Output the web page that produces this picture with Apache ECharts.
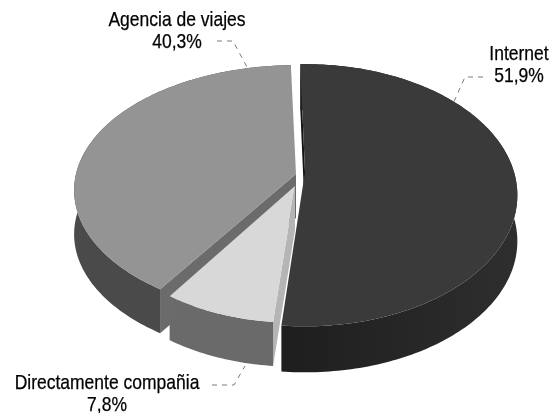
<!DOCTYPE html>
<html style="height: 100%">
  <head>
    <meta charset="UTF-8" />
    <title>ECharts</title>
    <script src="https://cdn.jsdelivr.net/npm/echarts/dist/echarts.min.js"></script>
  </head>
  <body style="height: 100%; margin: 0; background: #fff">
    <div id="main" style="height: 100%"></div>
    <script>
      // clockwise from the top
      var names = ['Internet', 'Directamente compañia', 'Agencia de viajes'];
      var values = [51.9, 7.8, 40.3];

      // where each wedge sits on the page: apex, radii, perspective, wall height
      var wedges = [
        { ax: 305, ay: 172, sx: 209, sy: 127, k: 0.177, h: 46 },
        { ax: 295, ay: 186, sx: 194, sy: 112.5, k: 0.177, h: 44 },
        { ax: 296, ay: 174, sx: 220, sy: 123, k: 0.13, h: 44 }
      ];
      var faceColors = ['#3a3a3a', '#d8d8d8', '#949494'];
      var rimColors = [
        {
          type: 'linear', x: 0, y: 0, x2: 1, y2: 0,
          colorStops: [
            { offset: 0, color: '#1e1e1e' },
            { offset: 1, color: '#2e2e2e' }
          ]
        },
        '#6a6a6a',
        '#4a4a4a'
      ];
      var cutColors = ['#141414', '#b5b5b5', '#6b6b6b'];
      // the exploded small wedge has to sit over the grey one
      var layers = [1, 2, 1];

      // top of the label text, and the dashed leader: start, elbow, end on the pie
      var labels = [
        { x: 519, y: 43, leader: [[483, 77], [465, 77], [452, 106]] },
        { x: 107, y: 372, leader: [[212, 385], [234, 385], [245, 366]] },
        { x: 177, y: 9, leader: [[217, 41], [233, 41], [247, 67]] }
      ];

      var startAngle = -1.5;
      var total = values.reduce(function (a, b) { return a + b; }, 0);

      var chartDom = document.getElementById('main');
      var myChart = echarts.init(chartDom);

      function project(w, deg) {
        var r = (deg * Math.PI) / 180;
        var d = 1 + w.k * Math.cos(r);
        return [w.ax + (w.sx * Math.sin(r)) / d, w.ay - (w.sy * Math.cos(r)) / d];
      }

      function down(p, h) {
        return [p[0], p[1] + h];
      }

      function renderItem(params, api) {
        var i = params.dataIndex;
        var before = 0;
        for (var j = 0; j < i; j++) before += values[j];
        var a0 = startAngle + (before / total) * 360;
        var a1 = a0 + (api.value(1) / total) * 360;
        var w = wedges[i];
        var apex = [w.ax, w.ay];
        var z = layers[i];

        var arc = [];
        for (var a = a0; a < a1; a += 1) arc.push(project(w, a));
        arc.push(project(w, a1));
        var under = arc.map(function (p) { return down(p, w.h); }).reverse();
        var edge = arc[0];

        var children = [
          {
            type: 'polygon',
            z2: z,
            shape: { points: [apex, edge, down(edge, w.h), down(apex, w.h)] },
            style: { fill: cutColors[i] }
          },
          {
            type: 'polygon',
            z2: z,
            shape: { points: arc.concat(under) },
            style: { fill: rimColors[i] }
          },
          {
            type: 'polygon',
            z2: z,
            shape: { points: [apex].concat(arc) },
            style: { fill: faceColors[i] }
          },
          {
            type: 'polyline',
            z2: 3,
            shape: { points: labels[i].leader },
            style: { stroke: '#7a7a7a', lineWidth: 1, lineDash: [5, 5], fill: null }
          },
          {
            type: 'text',
            z2: 3,
            x: labels[i].x,
            y: labels[i].y,
            scaleX: 0.833,
            style: {
              text: names[i] + '\n' + String(api.value(1)).replace('.', ',') + '%',
              x: 0,
              y: 0,
              align: 'center',
              verticalAlign: 'top',
              fontFamily: '"Liberation Sans"',
              fontSize: 21,
              lineHeight: 22,
              fill: '#000',
              stroke: '#000',
              lineWidth: 0.25
            }
          }
        ];
        return { type: 'group', children: children };
      }

      var option = {
        backgroundColor: '#fff',
        animation: false,
        series: [
          {
            type: 'custom',
            coordinateSystem: 'none',
            silent: true,
            clip: false,
            renderItem: renderItem,
            data: values.map(function (v, i) { return [i, v]; })
          }
        ]
      };
      myChart.setOption(option);
    </script>
  </body>
</html>
